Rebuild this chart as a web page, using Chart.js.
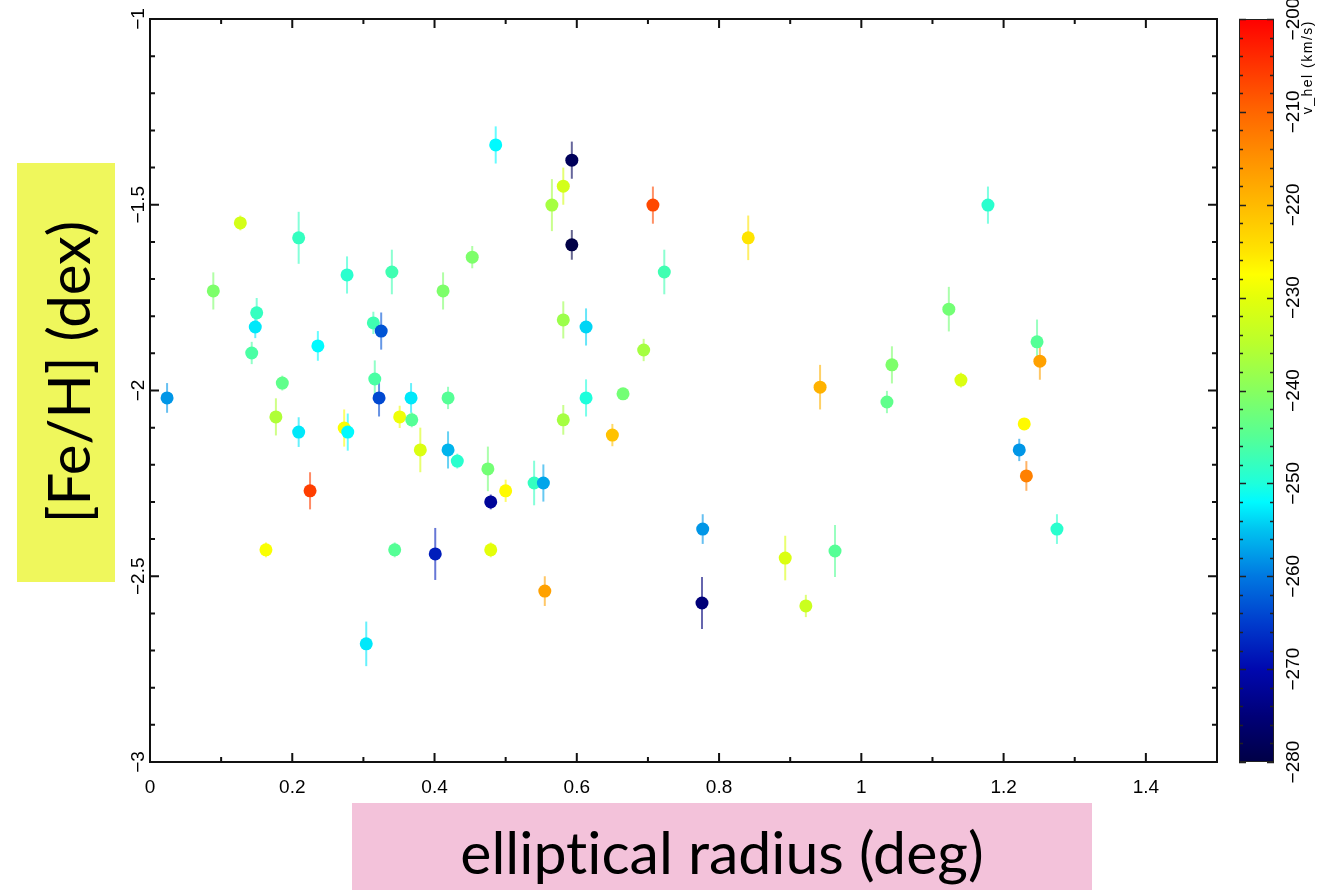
<!DOCTYPE html>
<html><head><meta charset="utf-8">
<script src="https://cdn.jsdelivr.net/npm/chart.js@4/dist/chart.umd.min.js"></script>
<style>
html,body{margin:0;padding:0;background:#fff;width:1331px;height:890px;overflow:hidden;position:relative;font-family:'Liberation Sans',Arial,sans-serif}
#main{position:absolute;left:0;top:0}
#cb{position:absolute;left:1230px;top:0}
#ybox{position:absolute;left:17px;top:163px;width:98px;height:419px;background:#eff75c}
#ytitle{position:absolute;left:68px;top:372px;transform:translate(-50%,-50%) rotate(-90deg);font-family:Lato,sans-serif;font-size:58px;line-height:58px;white-space:nowrap;color:#000;font-variant-ligatures:none}
#xbox{position:absolute;left:352px;top:803px;width:740px;height:87px;background:#f3c2da}
#xtitle{position:absolute;left:352px;width:740px;top:822px;text-align:center;font-family:Lato,sans-serif;font-size:59px;line-height:59px;white-space:nowrap;color:#000;font-variant-ligatures:none}
</style></head>
<body>
<div id="ybox"></div><div id="ytitle">[Fe/H] (dex)</div>
<div id="xbox"></div><div id="xtitle">elliptical radius (deg)</div>
<canvas id="main" width="1331" height="890"></canvas>
<canvas id="cb" width="101" height="890"></canvas>
<script>
// ---- data ----
const radius = [0.024,0.089,0.127,0.209,0.150,0.148,0.143,0.186,0.236,0.177,0.209,0.225,0.273,0.278,0.314,0.325,0.316,0.322,0.367,0.351,0.368,0.380,0.419,0.419,0.432,0.475,0.479,0.163,0.344,0.401,0.479,0.304,0.486,0.593,0.581,0.565,0.707,0.593,0.841,0.453,0.723,0.581,0.613,0.694,0.613,0.665,0.581,0.650,0.500,0.540,0.553,0.555,0.412,0.277,0.340,1.178,1.123,1.043,0.942,1.036,1.140,0.777,0.893,0.963,0.776,0.922,1.247,1.251,1.229,1.222,1.232,1.275];
const feh = [-2.020,-1.732,-1.549,-1.589,-1.791,-1.829,-1.899,-1.980,-1.880,-2.071,-2.112,-2.270,-2.101,-2.112,-1.818,-1.840,-1.969,-2.020,-2.020,-2.071,-2.079,-2.160,-2.020,-2.160,-2.190,-2.211,-2.300,-2.429,-2.429,-2.440,-2.429,-2.682,-1.339,-1.380,-1.450,-1.501,-1.501,-1.608,-1.589,-1.641,-1.681,-1.810,-1.829,-1.891,-2.020,-2.009,-2.079,-2.120,-2.270,-2.249,-2.249,-2.540,-1.732,-1.689,-1.681,-1.501,-1.781,-1.931,-1.991,-2.031,-1.972,-2.373,-2.451,-2.432,-2.572,-2.580,-1.869,-1.921,-2.090,-2.160,-2.230,-2.373];
const fehErr = [0.04,0.05,0.02,0.07,0.04,0.03,0.03,0.02,0.04,0.05,0.04,0.05,0.05,0.05,0.03,0.05,0.05,0.05,0.04,0.03,0.02,0.06,0.03,0.05,0.02,0.06,0.02,0.02,0.02,0.07,0.02,0.06,0.05,0.05,0.05,0.07,0.05,0.04,0.06,0.03,0.06,0.05,0.05,0.03,0.05,0.015,0.04,0.03,0.03,0.06,0.05,0.04,0.05,0.05,0.06,0.05,0.06,0.05,0.06,0.03,0.02,0.04,0.06,0.07,0.07,0.03,0.06,0.05,0.0,0.03,0.04,0.04];
const vhel = [-258,-241,-232,-248,-248,-253,-246,-244,-252,-236,-253,-206,-228,-252,-247,-263,-246,-264,-253,-229,-245,-231,-245,-256,-249,-242,-272,-228,-245,-268,-230,-253,-252,-278,-232,-237,-207,-280,-225,-241,-247,-238,-254,-237,-250,-242,-237,-221,-227,-248,-257,-217,-241,-249,-247,-249,-242,-241,-219,-244,-231,-258,-231,-245,-275,-233,-245,-217,-227,-258,-213,-249];
const xTicks = [0,0.2,0.4,0.6,0.8,1,1.2,1.4];
const yTicks = [-3,-2.5,-2,-1.5,-1];
const yTickLabels = ['\u22123','\u22122.5','\u22122','\u22121.5','\u22121'];
const cbTicks = [-280,-270,-260,-250,-240,-230,-220,-210,-200];
const cbTickLabels = ['\u2212280','\u2212270','\u2212260','\u2212250','\u2212240','\u2212230','\u2212220','\u2212210','\u2212200'];
const cbMin = -280, cbMax = -200;
const cbTitle = 'v_hel (km/s)';

// ---- colour map ----
const cmapStops = [
 [-280,[0,0,70]],[-275,[0,0,120]],[-270,[0,8,175]],[-265,[0,60,205]],[-260,[0,120,225]],
 [-255,[0,195,240]],[-252,[0,250,255]],[-250,[30,255,220]],[-245,[85,255,150]],[-240,[135,255,95]],
 [-235,[185,255,45]],[-230,[228,255,10]],[-227.5,[255,255,0]],[-225,[255,228,0]],[-220,[255,186,0]],
 [-215,[255,145,0]],[-210,[255,102,0]],[-205,[255,52,0]],[-200,[255,0,0]]];
function cmapRGB(v){
  if(v<=cmapStops[0][0]) return cmapStops[0][1];
  for(let k=1;k<cmapStops.length;k++){
    const [v1,c1]=cmapStops[k];
    if(v<=v1){const [v0,c0]=cmapStops[k-1];const t=(v-v0)/(v1-v0);
      return c0.map((c,j)=>Math.round(c+(c1[j]-c)*t));}
  }
  return cmapStops[cmapStops.length-1][1];
}
const rgb=(v,a)=>{const c=cmapRGB(v);return a==null?`rgb(${c[0]},${c[1]},${c[2]})`:`rgba(${c[0]},${c[1]},${c[2]},${a})`;};

const FONT='"Liberation Sans", Arial, sans-serif';
const TICKSIZE=19;

const errPlugin={id:'err',beforeDatasetsDraw(chart){
  const ctx=chart.ctx,xs=chart.scales.x,ys=chart.scales.y;
  ctx.save();ctx.lineWidth=2;
  radius.forEach((r,i)=>{
    if(!fehErr[i])return;
    const x=xs.getPixelForValue(r);
    ctx.strokeStyle=rgb(vhel[i],0.6);
    ctx.beginPath();ctx.moveTo(x,ys.getPixelForValue(feh[i]-fehErr[i]));ctx.lineTo(x,ys.getPixelForValue(feh[i]+fehErr[i]));ctx.stroke();
  });
  ctx.restore();
}};

const framePlugin={id:'frame',afterDraw(chart){
  const ctx=chart.ctx,a=chart.chartArea,xs=chart.scales.x,ys=chart.scales.y;
  ctx.save();ctx.strokeStyle='#111';ctx.lineWidth=2;
  ctx.strokeRect(a.left,a.top,a.right-a.left,a.bottom-a.top);
  ctx.beginPath();
  for(let i=0;i<=15;i++){const v=i/10;const px=xs.getPixelForValue(v);const L=(i%2===0)?9:5;
    ctx.moveTo(px,a.bottom);ctx.lineTo(px,a.bottom-L);ctx.moveTo(px,a.top);ctx.lineTo(px,a.top+L);}
  for(let i=0;i<=20;i++){const v=-3+i/10;const py=ys.getPixelForValue(v);const L=(i%5===0)?9:5;
    ctx.moveTo(a.left,py);ctx.lineTo(a.left+L,py);ctx.moveTo(a.right,py);ctx.lineTo(a.right-L,py);}
  ctx.stroke();
  ctx.fillStyle='#000';ctx.font=TICKSIZE+'px '+FONT;ctx.textAlign='center';ctx.textBaseline='alphabetic';
  yTicks.forEach((v,i)=>{const py=ys.getPixelForValue(v);ctx.save();ctx.translate(a.left-6,py);ctx.rotate(-Math.PI/2);ctx.fillText(yTickLabels[i],0,0);ctx.restore();});
  ctx.restore();
}};

new Chart(document.getElementById('main'),{
  type:'scatter',
  data:{datasets:[{data:radius.map((x,i)=>({x:x,y:feh[i]})),
    backgroundColor:radius.map((x,i)=>rgb(vhel[i])),borderWidth:0,pointRadius:6.5,pointHoverRadius:6.5}]},
  options:{responsive:false,animation:false,devicePixelRatio:1,
    layout:{padding:{top:19,right:114,left:0,bottom:0}},
    plugins:{legend:{display:false},tooltip:{enabled:false}},
    scales:{
      x:{type:'linear',min:0,max:1.5,grid:{display:false},border:{display:false},
        afterBuildTicks:s=>{s.ticks=xTicks.map(v=>({value:v}));},
        afterFit:s=>{s.height=128;},
        ticks:{color:'#000',font:{family:FONT,size:TICKSIZE},padding:6,maxRotation:0,autoSkip:false,callback:v=>String(v)}},
      y:{type:'linear',min:-3,max:-1,grid:{display:false},border:{display:false},
        afterBuildTicks:s=>{s.ticks=yTicks.map(v=>({value:v}));},
        afterFit:s=>{s.width=150;},
        ticks:{display:false}}
    }},
  plugins:[errPlugin,framePlugin]
});

const cbPlugin={id:'cbdeco',afterDraw(chart){
  const ctx=chart.ctx,a=chart.chartArea,ys=chart.scales.y;
  ctx.save();
  ctx.strokeStyle='#222';ctx.lineWidth=1;
  ctx.strokeRect(a.left+0.5,a.top+0.5,a.right-a.left-1,a.bottom-a.top-1);
  ctx.lineWidth=1.5;ctx.beginPath();
  for(let v=cbMin;v<=cbMax;v+=2){const py=Math.round(ys.getPixelForValue(v))+0.5;const L=(v%10===0)?7:4;
    ctx.moveTo(a.left,py);ctx.lineTo(a.left+L,py);ctx.moveTo(a.right,py);ctx.lineTo(a.right-L,py);}
  ctx.stroke();
  ctx.fillStyle='#000';ctx.font=TICKSIZE+'px '+FONT;ctx.textAlign='center';ctx.textBaseline='alphabetic';
  cbTicks.forEach((v,i)=>{const py=ys.getPixelForValue(v);ctx.save();ctx.translate(69,py);ctx.rotate(-Math.PI/2);ctx.fillText(cbTickLabels[i],0,0);ctx.restore();});
  ctx.save();ctx.font='14px '+FONT;ctx.textAlign='right';
  try{ctx.letterSpacing='1.5px';}catch(e){}
  ctx.translate(82,ys.getPixelForValue(cbMax)+1);ctx.rotate(-Math.PI/2);ctx.fillText(cbTitle,0,0);ctx.restore();
  ctx.restore();
}};

new Chart(document.getElementById('cb'),{
  type:'bar',
  data:{labels:[''],datasets:[{data:[[cbMin,cbMax]],borderWidth:0,barPercentage:1,categoryPercentage:1,
    backgroundColor:(c)=>{const a=c.chart.chartArea;if(!a)return '#888';
      const g=c.chart.ctx.createLinearGradient(0,a.bottom,0,a.top);
      cmapStops.forEach(([v,col])=>g.addColorStop((v-cbMin)/(cbMax-cbMin),`rgb(${col[0]},${col[1]},${col[2]})`));
      return g;}}]},
  options:{responsive:false,animation:false,devicePixelRatio:1,
    layout:{padding:{left:9,right:57,top:19,bottom:128}},
    plugins:{legend:{display:false},tooltip:{enabled:false}},
    scales:{x:{display:false},y:{display:false,min:cbMin,max:cbMax}}},
  plugins:[cbPlugin]
});
</script>
</body></html>
